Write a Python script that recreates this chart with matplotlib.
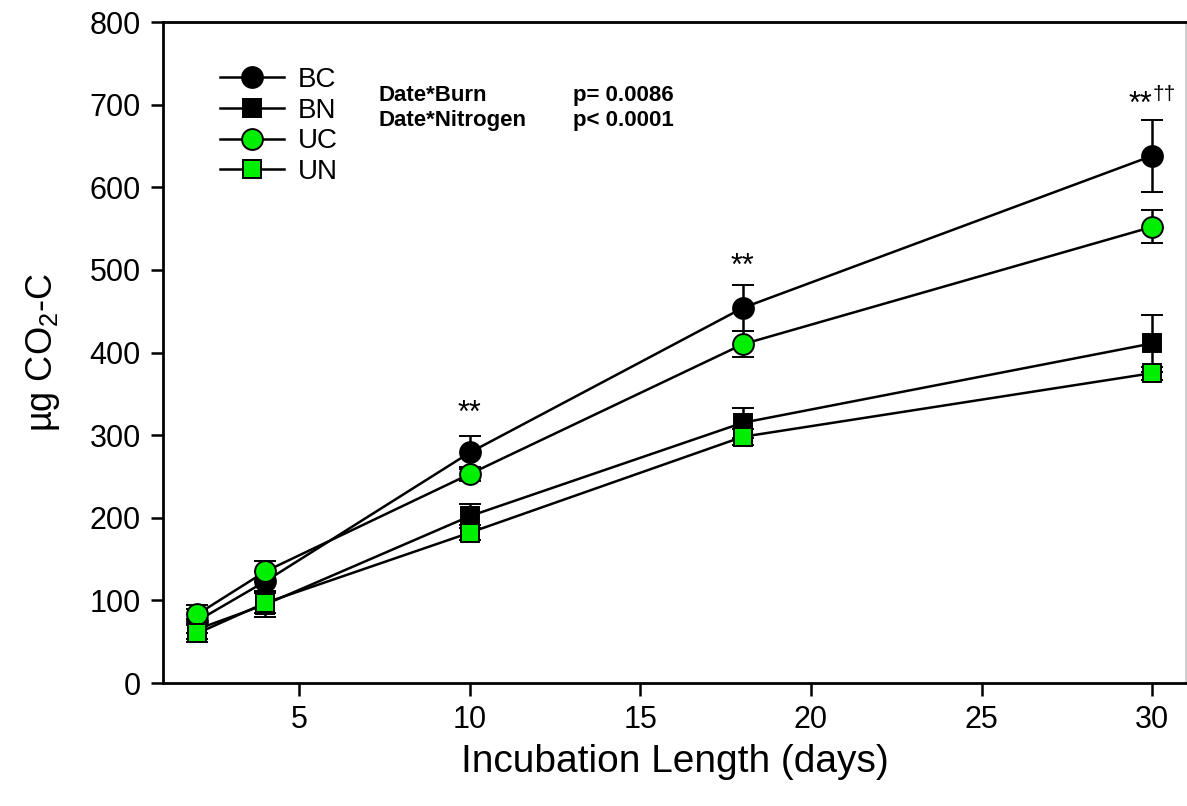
import numpy as np
import matplotlib.pyplot as plt
from matplotlib.lines import Line2D

plt.rcParams['font.family'] = ['Liberation Sans', 'DejaVu Sans']
plt.rcParams['mathtext.default'] = 'regular'

days = [2, 4, 10, 18, 30]
bc = [75, 123, 279, 454, 638]
bc_err = [15, 12, 20, 28, 44]
bn = [65, 95, 202, 315, 411]
bn_err = [12, 15, 15, 18, 34]
uc = [83, 135, 253, 410, 552]
uc_err = [12, 13, 8, 16, 20]
un = [60, 97, 182, 298, 375]
un_err = [10, 12, 9, 10, 8]

green = '#00ee00'

fig = plt.figure(figsize=(11.87, 8.06), dpi=100)
ax = fig.add_axes([0.1373, 0.1526, 0.862, 0.8201])

series = [
    ("BC", bc, bc_err, 'o', 'black', 15),
    ("BN", bn, bn_err, 's', 'black', 12.5),
    ("UC", uc, uc_err, 'o', green, 15),
    ("UN", un, un_err, 's', green, 12.5),
]
handles = []
for name, y, e, m, c, ms in series:
    ax.errorbar(days, y, yerr=e, marker=m, markersize=ms, markerfacecolor=c,
                markeredgecolor='black', markeredgewidth=1.4, color='black',
                linewidth=1.8, elinewidth=1.8, capsize=8, capthick=1.8)
    handles.append(Line2D([], [], marker=m, markersize=ms, markerfacecolor=c,
                          markeredgecolor='black', markeredgewidth=1.4,
                          color='black', linewidth=1.8, label=name))

ax.set_xlim(1, 31)
ax.set_ylim(0, 800)
ax.set_xticks([5, 10, 15, 20, 25, 30])
ax.set_yticks(np.arange(0, 801, 100))
ax.tick_params(direction='out', length=9, width=1.8, labelsize=22, pad=7)
for s in ax.spines.values():
    s.set_linewidth(2)
ax.spines['right'].set_color('#cccccc')

ax.set_xlabel("Incubation Length (days)", fontsize=28, labelpad=6)
ax.set_ylabel("µg CO$_2$-C", fontsize=26, labelpad=20)

ax.legend(handles=handles, loc='upper left', bbox_to_anchor=(0.056, 0.932), frameon=False,
          fontsize=20, handlelength=2.3, labelspacing=0.17, handletextpad=0.5,
          borderpad=0, borderaxespad=0)

ax.text(0.211, 0.889, "Date*Burn", transform=ax.transAxes, fontsize=16, fontweight='bold', va='center')
ax.text(0.401, 0.889, "p= 0.0086", transform=ax.transAxes, fontsize=16, fontweight='bold', va='center')
ax.text(0.211, 0.851, "Date*Nitrogen", transform=ax.transAxes, fontsize=16, fontweight='bold', va='center')
ax.text(0.401, 0.851, "p< 0.0001", transform=ax.transAxes, fontsize=16, fontweight='bold', va='center')

ax.text(10, 326, "**", ha='center', va='center', fontsize=22)
ax.text(18, 503, "**", ha='center', va='center', fontsize=22)
ax.text(30, 700, "**", ha='right', va='center', fontsize=22)
ax.text(30, 712, "††", ha='left', va='center', fontsize=15)

fig.savefig("out.png", dpi=100)
